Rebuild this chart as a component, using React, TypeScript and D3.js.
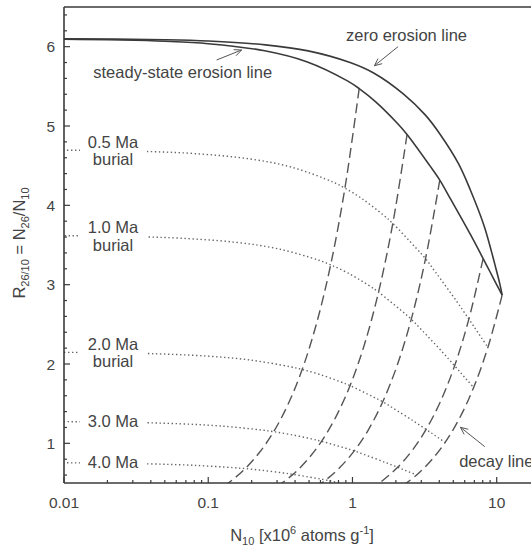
import React from 'react'
import * as d3 from 'd3'

type Pt = [number, number] // [N10 (x10^6 atoms/g), R26/10]

// steady-state erosion line
const steadyState: Pt[] = [
  [0.005037, 6.0968], [0.01259, 6.0921], [0.02514, 6.0842], [0.05016, 6.0685], [0.09987, 6.0377],
  [0.2463, 5.9485], [0.4817, 5.8106], [0.9227, 5.5688], [1.113, 5.472], [1.4558, 5.3021],
  [2.047, 5.0347], [2.39, 4.893], [3.447, 4.497], [4.03, 4.318], [4.746, 4.092],
  [6.614, 3.623], [8.051, 3.329], [8.968, 3.166], [9.844, 3.023], [10.909, 2.868],
]

// zero erosion (constant exposure) line
const zeroErosion: Pt[] = [
  [0.005, 6.1], [0.01008, 6.099], [0.05028, 6.087], [0.1003, 6.071], [0.2492, 6.023],
  [0.4925, 5.947], [0.9628, 5.8], [1.412, 5.665], [2.2505, 5.405], [3.194, 5.14],
  [4.036, 4.9], [5.4545, 4.52], [6.579, 4.19], [8.182, 3.74], [9.191, 3.42],
  [9.826, 3.22], [10.479, 3.02], [10.8, 2.91], [10.909, 2.868],
]

// decay lines (dashed), starting on the steady-state line
const decay1: Pt[] = [
  [1.113, 5.472], [0.8865, 4.217], [0.7061, 3.25], [0.5624, 2.505], [0.448, 1.931], [0.3568, 1.488],
  [0.2843, 1.147], [0.2264, 0.884], [0.1803, 0.681], [0.1437, 0.525], [0.1144, 0.405],
]
const decay2: Pt[] = [
  [2.39, 4.893], [1.904, 3.771], [1.516, 2.906], [1.208, 2.24], [0.962, 1.727], [0.766, 1.331],
  [0.61, 1.025], [0.486, 0.79], [0.387, 0.609], [0.3085, 0.47],
]
const decay3: Pt[] = [
  [4.03, 4.318], [3.21, 3.328], [2.557, 2.565], [2.036, 1.977], [1.622, 1.524], [1.292, 1.174],
  [1.029, 0.905], [0.82, 0.698], [0.653, 0.538], [0.52, 0.414],
]
const decay4: Pt[] = [
  [8.05, 3.329], [6.412, 2.566], [5.107, 1.977], [4.068, 1.524], [3.24, 1.175], [2.581, 0.905],
  [2.056, 0.698], [1.637, 0.538], [1.304, 0.414],
]
const decay5: Pt[] = [
  [10.909, 2.868], [8.689, 2.21], [6.921, 1.704], [5.512, 1.313], [4.391, 1.012], [3.497, 0.78],
  [2.786, 0.601], [2.219, 0.463],
]
const decayLines = [decay1, decay2, decay3, decay4, decay5]

// burial isochrons (dotted)
const burial05: Pt[] = [
  [0.004012, 4.699], [0.010028, 4.695], [0.02002, 4.689], [0.03995, 4.677], [0.07955, 4.653],
  [0.1962, 4.584], [0.3837, 4.478], [0.7349, 4.292], [0.8865, 4.217], [1.1595, 4.086],
  [1.6304, 3.88], [1.904, 3.771], [2.7455, 3.466], [3.21, 3.328], [3.78, 3.154],
  [5.268, 2.792], [6.412, 2.566], [7.143, 2.44], [7.841, 2.33], [8.689, 2.21],
]
const burial10: Pt[] = [
  [0.003196, 3.6215], [0.007987, 3.6187], [0.01595, 3.614], [0.03182, 3.6047], [0.06336, 3.5864],
  [0.1563, 3.5334], [0.3056, 3.4515], [0.5854, 3.3079], [0.7061, 3.25], [0.9236, 3.1494],
  [1.2986, 2.9906], [1.516, 2.906], [2.1868, 2.6712], [2.557, 2.565], [3.0109, 2.4306],
  [4.196, 2.1521], [5.107, 1.977], [5.689, 1.8806], [6.245, 1.7957], [6.921, 1.704],
]
const burial20: Pt[] = [
  [0.002027, 2.1516], [0.005067, 2.1499], [0.01012, 2.1471], [0.02019, 2.1416], [0.0402, 2.1307],
  [0.09914, 2.0992], [0.1939, 2.0506], [0.3714, 1.9652], [0.448, 1.931], [0.586, 1.8711],
  [0.8239, 1.7767], [0.962, 1.727], [1.3874, 1.587], [1.622, 1.524], [1.9103, 1.4441],
  [2.6621, 1.2786], [3.24, 1.175], [3.6096, 1.1173], [3.9622, 1.0668], [4.391, 1.012],
]
const burial30: Pt[] = [
  [0.001286, 1.2779], [0.003215, 1.2769], [0.006421, 1.2753], [0.01281, 1.272], [0.02551, 1.2655],
  [0.06291, 1.2468], [0.123, 1.2179], [0.2357, 1.1672], [0.2843, 1.147], [0.3718, 1.1113],
  [0.5228, 1.0553], [0.61, 1.025], [0.8804, 0.9426], [1.029, 0.905], [1.2121, 0.8577],
  [1.6892, 0.7594], [2.056, 0.698], [2.2904, 0.6636], [2.5142, 0.6336], [2.786, 0.601],
]
const burial40: Pt[] = [
  [0.000816, 0.7591], [0.00204, 0.7585], [0.004073, 0.7575], [0.008126, 0.7555], [0.01618, 0.7517],
  [0.0399, 0.7406], [0.07804, 0.7234], [0.1495, 0.6933], [0.1803, 0.681], [0.2358, 0.6601],
  [0.3316, 0.6268], [0.387, 0.609], [0.5584, 0.5599], [0.653, 0.538], [0.7689, 0.5095], [1.0715, 0.4511],
]
const burialLines = [burial05, burial10, burial20, burial30, burial40]
const burialAges = ['0.5 Ma', '1.0 Ma', '2.0 Ma', '3.0 Ma', '4.0 Ma']
const burialSecond = ['burial', 'burial', 'burial', '', '']

const xMajorTicks = [0.01, 0.1, 1, 10]
const xTickLabels = ['0.01', '0.1', '1', '10']
const yMajorTicks = [1, 2, 3, 4, 5, 6]
const yTickLabels = ['1', '2', '3', '4', '5', '6']

const W = 531
const H = 548
const L = 64
const T = 7
const B = 483
const R = 545

const x = d3.scaleLog().domain([0.01, 10]).range([L, 496.7])
const y = d3.scaleLinear().domain([0.5, 6.5]).range([B, T])

const line = d3
  .line<Pt>()
  .x((d) => x(d[0]))
  .y((d) => y(d[1]))
  .curve(d3.curveCatmullRom.alpha(0.5))

const font = 'Liberation Sans, Arial, Helvetica, sans-serif'
const ink = '#3a3a3a'
const txt = '#444'

function Arrow({ from, to }: { from: Pt; to: Pt }) {
  const x1 = x(from[0]), y1 = y(from[1]), x2 = x(to[0]), y2 = y(to[1])
  const a = Math.atan2(y1 - y2, x1 - x2)
  const len = 8
  const s = 0.42
  const p = `M${x2 + len * Math.cos(a + s)},${y2 + len * Math.sin(a + s)}L${x2},${y2}L${x2 + len * Math.cos(a - s)},${y2 + len * Math.sin(a - s)}`
  return (
    <g stroke="#555" strokeWidth={1} fill="none">
      <line x1={x1} y1={y1} x2={x2} y2={y2} />
      <path d={p} />
    </g>
  )
}

export default function App() {
  const xMinor: number[] = []
  xMajorTicks.forEach((d) => {
    for (let k = 2; k <= 9; k++) if (x(d * k) < W) xMinor.push(d * k)
  })
  const yMinor = d3.range(0.6, 6.45, 0.2).filter((v) => Math.abs(v - Math.round(v)) > 0.05)

  return (
    <div style={{ position: 'absolute', left: 0, top: 0 }}>
      <svg width={W} height={H} style={{ display: 'block', background: '#fff' }} fontFamily={font}>
        <defs>
          <clipPath id="plot">
            <rect x={L} y={T} width={R - L} height={B - T} />
          </clipPath>
        </defs>

        <g clipPath="url(#plot)" fill="none">
          {burialLines.map((d, i) => (
            <path key={'b' + i} d={line(d) || ''} stroke="#666" strokeWidth={1.4} strokeDasharray="1.4,2.6" />
          ))}
          {decayLines.map((d, i) => (
            <path key={'d' + i} d={line(d) || ''} stroke="#555" strokeWidth={1.4} strokeDasharray="10,5" />
          ))}
          <path d={line(steadyState) || ''} stroke={ink} strokeWidth={1.6} />
          <path d={line(zeroErosion) || ''} stroke={ink} strokeWidth={1.6} />
        </g>

        {/* burial labels */}
        {burialLines.map((d, i) => {
          const ly = y(d[1][1])
          const two = burialSecond[i] !== ''
          return (
            <g key={'bl' + i} fontSize={16.5} fill={txt} textAnchor="middle">
              <rect x={80} y={ly - 4} width={67} height={8} fill="#fff" />
              {two ? (
                <>
                  <text x={113} y={ly - 2.5}>{burialAges[i]}</text>
                  <text x={113} y={ly + 15}>{burialSecond[i]}</text>
                </>
              ) : (
                <text x={113} y={ly + 6}>{burialAges[i]}</text>
              )}
            </g>
          )
        })}

        {/* annotations */}
        <g fontSize={16.5} fill={txt}>
          <text x={x(2.37)} y={y(6.074)} textAnchor="middle">zero erosion line</text>
          <text x={x(0.01596)} y={y(5.6)}>steady-state erosion line</text>
          <text x={x(5.49)} y={y(0.706)}>decay line</text>
        </g>
        <Arrow from={[2.07, 6.0]} to={[1.42, 5.76]} />
        <Arrow from={[0.1143, 5.832]} to={[0.1704, 5.958]} />
        <Arrow from={[8.27, 0.958]} to={[5.61, 1.202]} />

        {/* frame and axes */}
        <g stroke={ink} strokeWidth={1.6} fill="none">
          <line x1={L} y1={T} x2={W} y2={T} />
          <line x1={L} y1={T} x2={L} y2={B} />
          <line x1={L} y1={B} x2={W} y2={B} />
        </g>
        <g stroke={ink} strokeWidth={1.2}>
          {yMajorTicks.map((v) => (
            <line key={'ym' + v} x1={L} x2={L + 6} y1={y(v)} y2={y(v)} />
          ))}
          {yMinor.map((v) => (
            <line key={'yn' + v} x1={L} x2={L + 3} y1={y(v)} y2={y(v)} />
          ))}
          {xMajorTicks.map((v) => (
            <line key={'xm' + v} x1={x(v)} x2={x(v)} y1={B} y2={B - 6} />
          ))}
          {xMinor.map((v) => (
            <line key={'xn' + v} x1={x(v)} x2={x(v)} y1={B} y2={B - 3} />
          ))}
        </g>
        <g fontSize={15.5} fill={txt}>
          {yMajorTicks.map((v, i) => (
            <text key={'yt' + v} x={55} y={y(v) + 5.5} textAnchor="end">{yTickLabels[i]}</text>
          ))}
          {xMajorTicks.map((v, i) => (
            <text key={'xt' + v} x={x(v)} y={508} textAnchor="middle">{xTickLabels[i]}</text>
          ))}
        </g>

        {/* axis titles */}
        <text x={302} y={541} textAnchor="middle" fontSize={16.5} fill={txt}>
          N<tspan fontSize={11} dy={4}>10</tspan>
          <tspan dy={-4}> [x10</tspan>
          <tspan fontSize={11} dy={-7}>6</tspan>
          <tspan dy={7}> atoms g</tspan>
          <tspan fontSize={11} dy={-7}>-1</tspan>
          <tspan dy={7}>]</tspan>
        </text>
        <text transform="translate(25,243) rotate(-90)" textAnchor="middle" fontSize={16.5} fill={txt}>
          R<tspan fontSize={11} dy={4}>26/10</tspan>
          <tspan dy={-4}> = N</tspan>
          <tspan fontSize={11} dy={4}>26</tspan>
          <tspan dy={-4}>/N</tspan>
          <tspan fontSize={11} dy={4}>10</tspan>
        </text>
      </svg>
    </div>
  )
}
